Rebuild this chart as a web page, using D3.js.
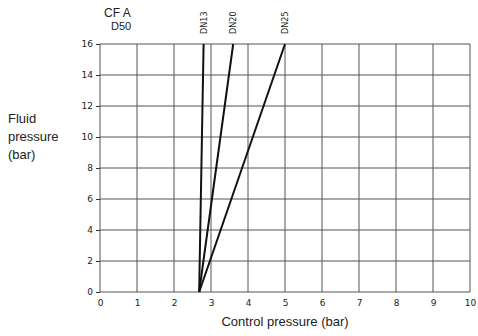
<!doctype html>
<html>
<head>
<script src="https://d3js.org/d3.v7.min.js"></script>
<style>
  body { margin: 0; background: #fff; }
  text { font-family: "Liberation Sans", Arial, sans-serif; fill: #222; }
</style>
</head>
<body>
<script>
    // data
    var xTicks = [0, 1, 2, 3, 4, 5, 6, 7, 8, 9, 10];
    var yTicks = [0, 2, 4, 6, 8, 10, 12, 14, 16];
    var series = ["DN13", "DN20", "DN25"];
    var startPressure = [2.68, 2.68, 2.68];   // control pressure at 0 bar fluid
    var endPressure = [2.8, 3.6, 5.0];        // control pressure at 16 bar fluid
    var fluidMax = 16;

    var margin = {top: 44, right: 8, bottom: 44, left: 100},
        width = 478 - margin.left - margin.right,
        height = 336 - margin.top - margin.bottom;

    var svg = d3.select("body")
        .append("svg")
        .attr("width", 478)
        .attr("height", 336);

    var g = svg.append("g")
        .attr("transform", "translate(" + margin.left + "," + margin.top + ")");

    var x = d3.scaleLinear().domain([0, 10]).range([0, 370]);
    var y = d3.scaleLinear().domain([0, 16]).range([248, 0]);

    // grid
    g.append("g").selectAll("line.v")
        .data(xTicks)
        .enter().append("line")
        .attr("x1", d => x(d)).attr("x2", d => x(d))
        .attr("y1", y(0)).attr("y2", y(16))
        .attr("stroke", "#555").attr("stroke-width", 1);

    g.append("g").selectAll("line.h")
        .data(yTicks)
        .enter().append("line")
        .attr("x1", x(0)).attr("x2", x(10))
        .attr("y1", d => y(d)).attr("y2", d => y(d))
        .attr("stroke", "#555").attr("stroke-width", 1);

    // axes
    var xAxis = g.append("g")
        .attr("transform", "translate(0," + y(0) + ")")
        .call(d3.axisBottom(x).tickValues(xTicks).tickSize(0).tickPadding(8));
    xAxis.select(".domain").remove();
    xAxis.selectAll("text").attr("font-size", "9px").style("font-family", "DejaVu Sans, sans-serif");

    var yAxis = g.append("g")
        .call(d3.axisLeft(y).tickValues(yTicks).tickSize(4).tickPadding(3));
    yAxis.select(".domain").remove();
    yAxis.selectAll("line").attr("stroke", "#333");
    yAxis.selectAll("text").attr("font-size", "9px").style("font-family", "DejaVu Sans, sans-serif");

    // lines
    g.append("g").selectAll("line.s")
        .data(series)
        .enter().append("line")
        .attr("x1", (d, i) => x(startPressure[i]))
        .attr("y1", y(0))
        .attr("x2", (d, i) => x(endPressure[i]))
        .attr("y2", y(fluidMax))
        .attr("stroke", "#111")
        .attr("stroke-width", 2);

    // series labels (rotated)
    g.append("g").selectAll("text.s")
        .data(series)
        .enter().append("text")
        .attr("transform", (d, i) => "translate(" + (x(endPressure[i]) + 3) + "," + (y(fluidMax) - 10) + ") rotate(-90)")
        .attr("font-size", "9px")
        .style("font-family", "DejaVu Sans Condensed, sans-serif")
        .text(d => d);

    // title
    svg.append("text")
        .attr("x", 104).attr("y", 17)
        .attr("font-size", "12px")
        .text("CF A");
    svg.append("text")
        .attr("x", 111).attr("y", 30)
        .attr("font-size", "11px")
        .text("D50");

    // axis titles
    svg.append("text")
        .attr("x", 285).attr("y", 326)
        .attr("text-anchor", "middle")
        .attr("font-size", "13px")
        .text("Control pressure (bar)");

    var yl = svg.append("text").attr("font-size", "13px");
    ["Fluid", "pressure", "(bar)"].forEach(function (t, i) {
        yl.append("tspan").attr("x", 8).attr("y", 123 + i * 18).text(t);
    });
</script>
</body>
</html>
